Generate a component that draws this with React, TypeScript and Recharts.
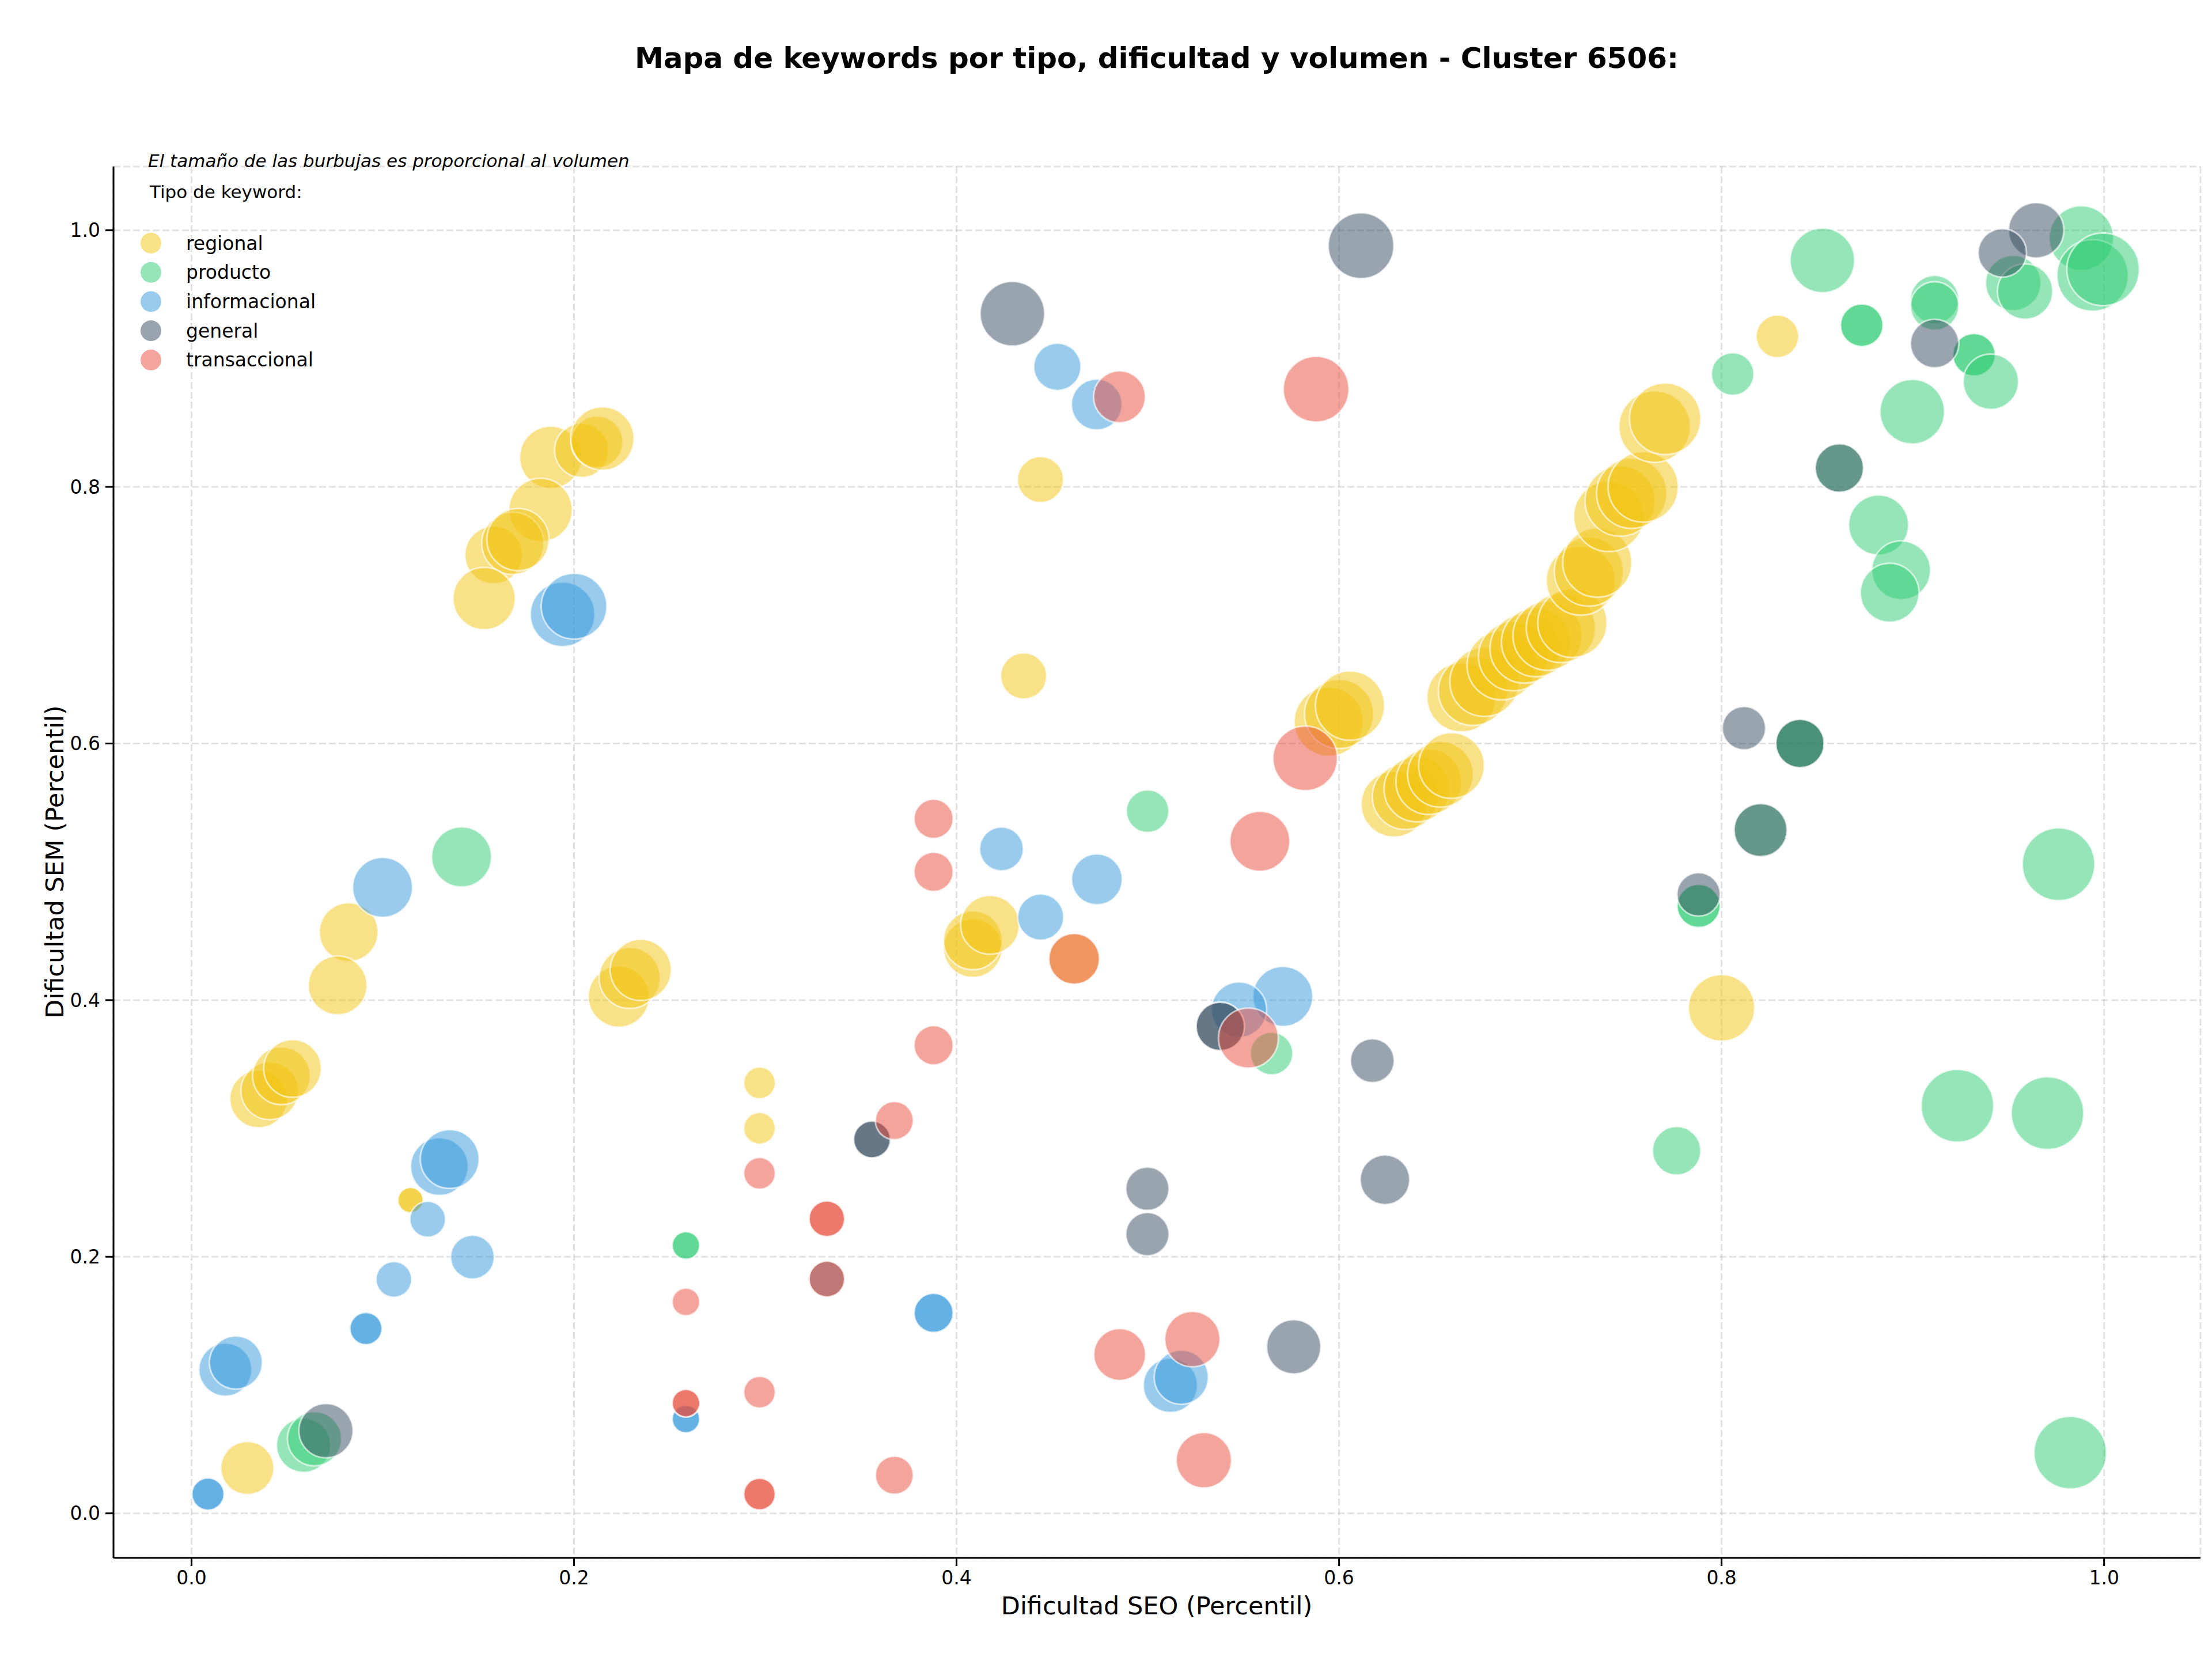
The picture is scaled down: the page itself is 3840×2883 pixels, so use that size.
import { ScatterChart, Scatter, XAxis, YAxis, ZAxis, CartesianGrid } from 'recharts'

// [dificultad SEO, dificultad SEM, volumen]
type Punto = [number, number, number]

const regional: Punto[] = [
  [0.1878, 0.823, 729], [0.204, 0.8285, 552], [0.212, 0.835, 506], [0.2148, 0.8377, 756],
  [0.1825, 0.782, 756], [0.158, 0.747, 625], [0.168, 0.756, 729], [0.1707, 0.759, 729],
  [0.153, 0.713, 729], [0.0822, 0.453, 650], [0.0764, 0.4115, 650],
  [0.2234, 0.4028, 702], [0.2291, 0.4173, 702], [0.2349, 0.4235, 702],
  [0.0351, 0.323, 625], [0.0409, 0.3293, 625], [0.047, 0.341, 625], [0.0528, 0.3467, 625],
  [0.1145, 0.2441, 121], [0.1145, 0.2441, 121], [0.0292, 0.0353, 529],
  [0.297, 0.3355, 189], [0.297, 0.3001, 189], [0.4439, 0.8057, 400], [0.4351, 0.6526, 400],
  [0.4085, 0.4406, 650], [0.4085, 0.4466, 650], [0.4175, 0.4587, 650], [0.4615, 0.4322, 484],
  [0.5946, 0.617, 900], [0.6, 0.623, 900], [0.6057, 0.6295, 900],
  [0.6287, 0.5527, 812], [0.6346, 0.5586, 812], [0.6407, 0.5645, 812],
  [0.6469, 0.5703, 812], [0.653, 0.576, 812], [0.6588, 0.5828, 812],
  [0.664, 0.636, 900], [0.67, 0.641, 900], [0.676, 0.648, 900], [0.685, 0.661, 900],
  [0.691, 0.668, 900], [0.697, 0.674, 900], [0.703, 0.679, 900], [0.709, 0.684, 900],
  [0.716, 0.69, 900], [0.722, 0.694, 900],
  [0.7264, 0.727, 900], [0.7306, 0.734, 900], [0.735, 0.741, 900],
  [0.741, 0.777, 930], [0.747, 0.789, 930], [0.753, 0.795, 930], [0.759, 0.8, 930],
  [0.765, 0.847, 961], [0.7705, 0.853, 961], [0.8292, 0.9173, 342], [0.8, 0.394, 827]
]

const producto: Punto[] = [
  [0.1412, 0.5116, 676], [0.0586, 0.0531, 552], [0.0643, 0.0581, 552],
  [0.2585, 0.2088, 144], [0.2585, 0.2088, 144], [0.4999, 0.5473, 342], [0.5647, 0.3584, 342],
  [0.7765, 0.2826, 441], [0.788, 0.4735, 353], [0.788, 0.4735, 353], [0.8058, 0.888, 342],
  [0.8527, 0.9765, 784], [0.8733, 0.926, 342], [0.8733, 0.926, 342], [0.9114, 0.946, 441],
  [0.9114, 0.941, 441], [0.932, 0.903, 342], [0.932, 0.903, 342], [0.9408, 0.882, 576],
  [0.8997, 0.8586, 784], [0.8616, 0.8147, 441], [0.841, 0.6, 441], [0.841, 0.6, 441],
  [0.8204, 0.5325, 529], [0.8821, 0.7703, 676], [0.8939, 0.735, 650], [0.8879, 0.7175, 650],
  [0.9881, 0.9939, 784], [0.994, 0.9648, 961], [0.9995, 0.9695, 992],
  [0.9525, 0.9589, 576], [0.9587, 0.9523, 576], [0.9233, 0.3177, 992],
  [0.9704, 0.3119, 992], [0.9762, 0.5059, 992], [0.9823, 0.0473, 992]
]

const informacional: Punto[] = [
  [0.194, 0.7007, 784], [0.2, 0.707, 812], [0.0999, 0.4879, 676], [0.1296, 0.2703, 625],
  [0.135, 0.2761, 650], [0.1235, 0.2292, 240], [0.1469, 0.1997, 361], [0.1058, 0.1823, 240],
  [0.0912, 0.144, 196], [0.0912, 0.144, 196], [0.0177, 0.112, 529], [0.0232, 0.1175, 529],
  [0.0086, 0.015, 196], [0.0086, 0.015, 196], [0.2585, 0.0735, 144], [0.2585, 0.0735, 144],
  [0.388, 0.1562, 289], [0.388, 0.1562, 289], [0.4527, 0.8936, 420], [0.4733, 0.8642, 484],
  [0.4235, 0.5178, 361], [0.4734, 0.4941, 484], [0.444, 0.4647, 400], [0.5706, 0.4029, 676],
  [0.5477, 0.3925, 576], [0.5118, 0.0998, 552], [0.5175, 0.1061, 552]
]

const general: Punto[] = [
  [0.0703, 0.0644, 552], [0.3558, 0.2914, 256], [0.3558, 0.2914, 256], [0.3322, 0.1826, 240],
  [0.4292, 0.935, 784], [0.6115, 0.988, 812], [0.5379, 0.3795, 441], [0.5379, 0.3795, 441],
  [0.6174, 0.3528, 361], [0.4998, 0.253, 352], [0.4998, 0.2176, 352], [0.5763, 0.1298, 552],
  [0.624, 0.26, 462], [0.8117, 0.612, 353], [0.841, 0.6, 441], [0.8204, 0.5325, 529],
  [0.788, 0.4824, 353], [0.8616, 0.8147, 441], [0.9114, 0.9117, 441], [0.9645, 1.0, 576],
  [0.9468, 0.9824, 441]
]

const transaccional: Punto[] = [
  [0.588, 0.8762, 812], [0.4852, 0.8702, 506], [0.5823, 0.5884, 784], [0.5586, 0.5238, 676],
  [0.5526, 0.3704, 676], [0.388, 0.5413, 289], [0.388, 0.5, 289], [0.388, 0.3648, 289],
  [0.3675, 0.3061, 272], [0.3322, 0.2296, 240], [0.3322, 0.2296, 240], [0.3322, 0.1826, 240],
  [0.297, 0.265, 189], [0.2585, 0.1648, 144], [0.2585, 0.0859, 144], [0.2585, 0.0859, 144],
  [0.297, 0.0944, 189], [0.297, 0.015, 189], [0.297, 0.015, 189], [0.3675, 0.0297, 272],
  [0.4853, 0.1238, 506], [0.5233, 0.1358, 576], [0.5293, 0.0414, 576], [0.4615, 0.4322, 484]
]

const TIPOS = ['regional', 'producto', 'informacional', 'general', 'transaccional'] as const
const SERIES: Record<(typeof TIPOS)[number], Punto[]> = {
  regional, producto, informacional, general, transaccional
}
const TICKS = [0, 0.2, 0.4, 0.6, 0.8, 1.0]

const TITULO = 'Mapa de keywords por tipo, dificultad y volumen - Cluster 6506:'
const NOTA = 'El tamaño de las burbujas es proporcional al volumen'

const COLORES: Record<(typeof TIPOS)[number], string> = {
  regional: '#f1c40f',
  producto: '#2ecc71',
  informacional: '#3498db',
  general: '#34495e',
  transaccional: '#e74c3c'
}

const FONT = "'DejaVu Sans', sans-serif"
const W = 3840
const H = 2883

export default function App(): JSX.Element {
  const tick = { fill: '#000', fontSize: 33, fontFamily: FONT }
  return (
    <div style={{ position: 'absolute', left: 0, top: 0, width: W, height: H, background: '#fff' }}>
      <ScatterChart width={W} height={H} margin={{ top: 289, right: 20, bottom: 79, left: 77 }}>
        <CartesianGrid stroke="#b0b0b0" strokeOpacity={0.35} strokeWidth={3} strokeDasharray="12 5" />
        <XAxis
          type="number"
          dataKey="x"
          domain={[-0.0408, 1.0504]}
          allowDataOverflow
          ticks={TICKS}
          interval={0}
          tickFormatter={(v: number) => v.toFixed(1)}
          height={100}
          tick={tick}
          tickSize={14}
          tickMargin={9}
          axisLine={{ stroke: '#000', strokeWidth: 3 }}
          tickLine={{ stroke: '#000', strokeWidth: 3 }}
        />
        <YAxis
          type="number"
          dataKey="y"
          domain={[-0.0347, 1.0497]}
          allowDataOverflow
          ticks={TICKS}
          interval={0}
          tickFormatter={(v: number) => v.toFixed(1)}
          width={120}
          tick={tick}
          tickSize={14}
          tickMargin={9}
          axisLine={{ stroke: '#000', strokeWidth: 3 }}
          tickLine={{ stroke: '#000', strokeWidth: 3 }}
        />
        <ZAxis type="number" dataKey="z" domain={[0, 1000]} range={[0, 4 * Math.PI * 1000]} />
        {TIPOS.map((t) => (
          <Scatter
            key={t}
            name={t}
            data={SERIES[t].map(([x, y, z]) => ({ x, y, z }))}
            fill={COLORES[t]}
            fillOpacity={0.5}
            stroke="#ffffff"
            strokeWidth={3}
            strokeOpacity={0.6}
            isAnimationActive={false}
          />
        ))}
      </ScatterChart>
      <svg
        width={W}
        height={H}
        style={{ position: 'absolute', left: 0, top: 0, pointerEvents: 'none' }}
        fontFamily={FONT}
      >
        <text x={2008} y={118} textAnchor="middle" fontSize={50} fontWeight="bold" fill="#000">
          {TITULO}
        </text>
        <text x={257} y={290} fontSize={31} fontStyle="italic" fill="#000">
          {NOTA}
        </text>
        <text x={260} y={344} fontSize={31} fill="#000">
          Tipo de keyword:
        </text>
        {TIPOS.map((t, i) => (
          <g key={t}>
            <circle cx={262} cy={422 + i * 50.7} r={18} fill={COLORES[t]} fillOpacity={0.5} />
            <text x={323} y={422 + i * 50.7} dominantBaseline="central" fontSize={33} fill="#000">
              {t}
            </text>
          </g>
        ))}
        <text x={2008} y={2802} textAnchor="middle" fontSize={43} fill="#000">
          Dificultad SEO (Percentil)
        </text>
        <text
          x={110}
          y={1496}
          textAnchor="middle"
          fontSize={43}
          fill="#000"
          transform="rotate(-90 110 1496)"
        >
          Dificultad SEM (Percentil)
        </text>
      </svg>
    </div>
  )
}
